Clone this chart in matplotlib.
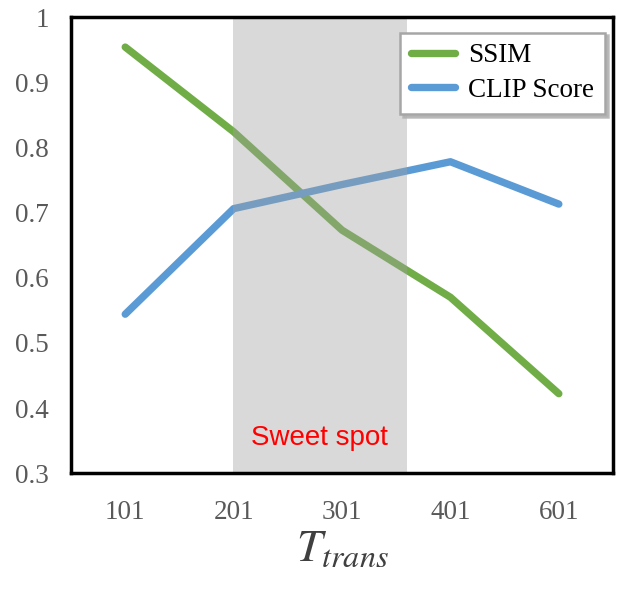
import numpy as np
import matplotlib
matplotlib.use("Agg")
import matplotlib.pyplot as plt

# data
t_labels = ["101", "201", "301", "401", "601"]
ssim = [0.954, 0.824, 0.673, 0.570, 0.422]
clip_score = [0.544, 0.706, 0.743, 0.778, 0.713]
y_ticks = [0.3, 0.4, 0.5, 0.6, 0.7, 0.8, 0.9, 1.0]
y_tick_labels = ["0.3", "0.4", "0.5", "0.6", "0.7", "0.8", "0.9", "1"]
sweet_start, sweet_end = 0.99, 2.60  # in category units

plt.rcParams["font.family"] = "Liberation Serif"
plt.rcParams["mathtext.fontset"] = "stix"

fig = plt.figure(figsize=(6.23, 5.90), dpi=100)
ax = fig.add_axes([0.114, 0.198, 0.870, 0.773])

x = np.arange(len(t_labels))
ax.plot(x, ssim, color="#70AD47", lw=5.3, solid_capstyle="round", label="SSIM", zorder=2)
ax.plot(x, clip_score, color="#5B9BD5", lw=5.3, solid_capstyle="round", label="CLIP Score", zorder=2)

# shaded region on top of the lines, semi-transparent
ax.axvspan(sweet_start, sweet_end, color="#a0a0a0", alpha=0.4, lw=0, zorder=2.4)
ax.text(1.792, 0.354, "Sweet spot", color="red", fontsize=20,
        family="Liberation Sans", ha="center", va="center", zorder=3)

ax.set_xlim(-0.5, len(t_labels) - 0.5)
ax.set_ylim(0.3, 1.0)
ax.set_xticks(x)
ax.set_xticklabels(t_labels)
ax.set_yticks(y_ticks)
ax.set_yticklabels(y_tick_labels)
ax.tick_params(axis="both", length=0, labelsize=19.5, labelcolor="#595959")
ax.tick_params(axis="x", pad=19)
ax.tick_params(axis="y", pad=16)

for sp in ax.spines.values():
    sp.set_linewidth(2.5)
    sp.set_color("black")
    sp.set_zorder(3)

ax.set_xlabel("$T_{trans}$", fontsize=33, color="#404040", labelpad=3)

leg = ax.legend(loc="upper right", bbox_to_anchor=(0.985, 0.966), borderaxespad=0,
                fontsize=19.5, frameon=True, fancybox=False,
                shadow={"color": "#b0b0b0", "alpha": 0.8},
                handlelength=1.6, borderpad=0.4, labelspacing=0.35, handletextpad=0.5)
leg.get_frame().set_edgecolor("#a6a6a6")
leg.get_frame().set_linewidth(1.8)
for h in leg.get_lines():
    h.set_solid_capstyle("round")

plt.savefig("out.png", dpi=100)
plt.close()
